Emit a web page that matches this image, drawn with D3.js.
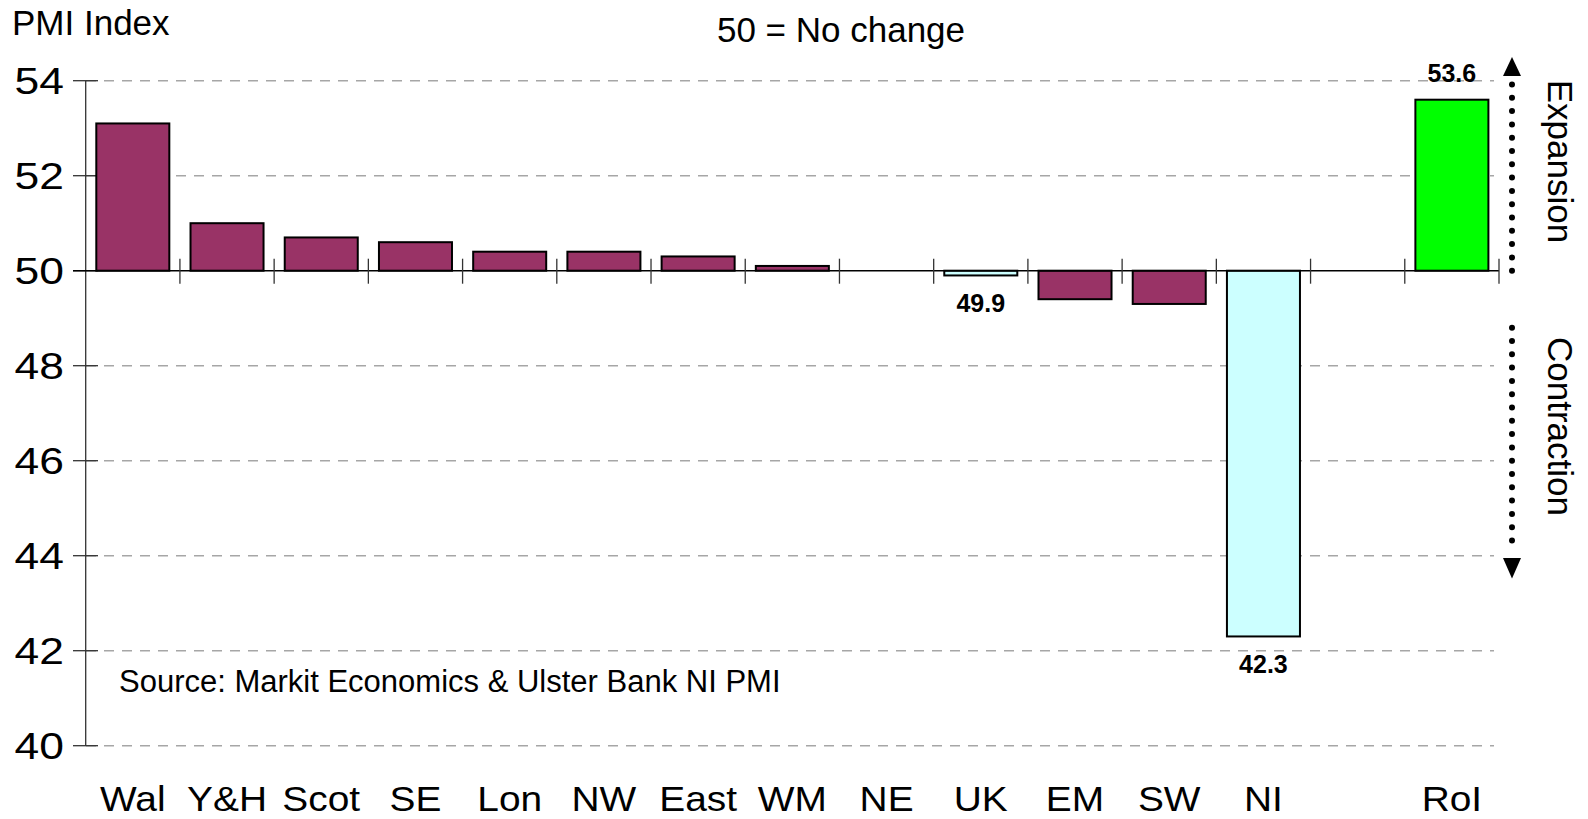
<!DOCTYPE html>
<html>
<head>
<meta charset="utf-8">
<script src="https://cdn.jsdelivr.net/npm/d3@7/dist/d3.min.js"></script>
<style>
  html, body { margin: 0; padding: 0; background: #fff; }
  svg { display: block; font-family: "Liberation Sans", Arial, sans-serif; }
</style>
</head>
<body>
<svg id="chart" width="1588" height="819"></svg>
<script>
// Regional PMI readings (50 = no change); the empty slot separates RoI from the UK regions
const categories = ["Wal", "Y&H", "Scot", "SE", "Lon", "NW", "East", "WM", "NE", "UK", "EM", "SW", "NI", "", "RoI"];
const pmiValues  = [53.1, 51.0, 50.7, 50.6, 50.4, 50.4, 50.3, 50.1, 50.0, 49.9, 49.4, 49.3, 42.3, null, 53.6];
const labelled   = ["UK", "NI", "RoI"];
const yTicks     = [40, 42, 44, 46, 48, 50, 52, 54];
const baselineValue = 50;

const svg = d3.select("#chart");

const x = d3.scaleBand().domain(d3.range(categories.length)).range([85.7, 1499]).padding(0);
const y = d3.scaleLinear().domain([40, 54]).range([745.7, 80.7]);

const barFrac = 0.775;
const bw = x.bandwidth();
const barW = bw * barFrac;

function fillFor(name) {
  if (name === "RoI") return "#00ff00";
  if (name === "UK" || name === "NI") return "#ccffff";
  return "#993366";
}

// dashed horizontal gridlines (the 50 line is drawn solid later)
svg.append("g")
  .selectAll("line")
  .data(yTicks.filter(d => d !== baselineValue))
  .join("line")
  .attr("x1", 86).attr("x2", 1494)
  .attr("y1", d => y(d)).attr("y2", d => y(d))
  .attr("stroke", "#a6a6a6")
  .attr("stroke-width", 1.5)
  .attr("stroke-dasharray", "10 8");

// y axis line with crossing ticks
const axisColor = "#333";
svg.append("line")
  .attr("x1", 85.7).attr("x2", 85.7)
  .attr("y1", y(54)).attr("y2", y(40))
  .attr("stroke", axisColor).attr("stroke-width", 1.3);

svg.append("g")
  .selectAll("line")
  .data(yTicks)
  .join("line")
  .attr("x1", 73).attr("x2", 98)
  .attr("y1", d => y(d)).attr("y2", d => y(d))
  .attr("stroke", axisColor).attr("stroke-width", 1.3);

svg.append("g")
  .selectAll("text")
  .data(yTicks)
  .join("text")
  .attr("transform", d => `translate(64,${y(d) + 13.5}) scale(1.2,1)`)
  .attr("text-anchor", "end")
  .attr("font-size", 37)
  .attr("fill", "#000")
  .text(d => d);

// bars grow from the 50 line
svg.append("g")
  .selectAll("rect")
  .data(pmiValues.map((v, i) => ({ v, i, name: categories[i] })).filter(d => d.v !== null))
  .join("rect")
  .attr("x", d => x(d.i) + (bw - barW) / 2)
  .attr("width", barW)
  .attr("y", d => y(Math.max(d.v, baselineValue)))
  .attr("height", d => Math.abs(y(d.v) - y(baselineValue)))
  .attr("fill", d => fillFor(d.name))
  .attr("stroke", "#000")
  .attr("stroke-width", 2);

// 50 baseline
svg.append("line")
  .attr("x1", 73).attr("x2", 1499)
  .attr("y1", y(baselineValue)).attr("y2", y(baselineValue))
  .attr("stroke", "#000").attr("stroke-width", 1.5);

// category separator ticks on the baseline
svg.append("g")
  .selectAll("line")
  .data(d3.range(1, categories.length + 1))
  .join("line")
  .attr("x1", i => 85.7 + i * bw).attr("x2", i => 85.7 + i * bw)
  .attr("y1", y(baselineValue) - 12).attr("y2", y(baselineValue) + 13)
  .attr("stroke", axisColor).attr("stroke-width", 1.3);

// category labels
svg.append("g")
  .selectAll("text")
  .data(categories)
  .join("text")
  .attr("transform", (d, i) => `translate(${x(i) + bw / 2},811) scale(1.08,1)`)
  .attr("text-anchor", "middle")
  .attr("font-size", 36)
  .text(d => d);

// value labels for the highlighted bars
svg.append("g")
  .selectAll("text")
  .data(pmiValues.map((v, i) => ({ v, i, name: categories[i] })).filter(d => labelled.includes(d.name)))
  .join("text")
  .attr("x", d => x(d.i) + bw / 2)
  .attr("y", d => d.v >= baselineValue ? y(d.v) - 18 : y(d.v) + 37)
  .attr("text-anchor", "middle")
  .attr("font-size", 25)
  .attr("font-weight", "bold")
  .text(d => d.v.toFixed(1));

// titles and notes
svg.append("text").attr("x", 12).attr("y", 35).attr("font-size", 35).text("PMI Index");
svg.append("text").attr("x", 841).attr("y", 42).attr("text-anchor", "middle").attr("font-size", 35).text("50 = No change");
svg.append("text").attr("x", 119).attr("y", 692).attr("font-size", 31).text("Source: Markit Economics & Ulster Bank NI PMI");

// expansion / contraction guides
const gx = 1512;
function dotted(v0, v1) {
  svg.append("line")
    .attr("x1", gx).attr("x2", gx)
    .attr("y1", y(v0)).attr("y2", y(v1))
    .attr("stroke", "#000")
    .attr("stroke-width", 6)
    .attr("stroke-linecap", "round")
    .attr("stroke-dasharray", "0 13.3");
}
dotted(50, 54.05);
dotted(48.8, 44.07);
svg.append("path")
  .attr("d", `M${gx},${y(54.5)} L${gx + 9},${y(54.1)} L${gx - 9},${y(54.1)} Z`)
  .attr("fill", "#000");
svg.append("path")
  .attr("d", `M${gx},${y(43.52)} L${gx + 9},${y(43.95)} L${gx - 9},${y(43.95)} Z`)
  .attr("fill", "#000");

svg.append("text")
  .attr("transform", `translate(1548,${y(52.3)}) rotate(90)`)
  .attr("text-anchor", "middle")
  .attr("font-size", 35)
  .text("Expansion");
svg.append("text")
  .attr("transform", `translate(1548,${y(46.72)}) rotate(90)`)
  .attr("text-anchor", "middle")
  .attr("font-size", 35)
  .text("Contraction");
</script>
</body>
</html>
